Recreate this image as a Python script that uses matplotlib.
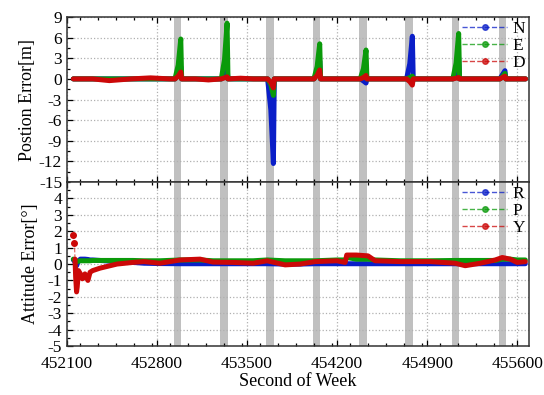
import numpy as np
import matplotlib
matplotlib.use("Agg")
import matplotlib.pyplot as plt
from matplotlib.lines import Line2D
from matplotlib.ticker import MultipleLocator

plt.rcParams['font.family'] = ['Liberation Serif', 'DejaVu Serif']
plt.rcParams['axes.unicode_minus'] = False

c_blue = '#0a1ec8'
c_green = '#0a9a0a'
c_red = '#cc0808'

# GNSS outage windows (start, end), seconds of week
outage_start = [452930, 453290, 453650, 454010, 454370, 454730, 455090, 455455]
outage_len = 60

# position error time grid and series
pos_t = [452150, 452300, 452430, 452600, 452750, 452900,
         452940, 452965, 452985, 452992,
         453100, 453200,
         453300, 453325, 453345, 453352,
         453450, 453550,
         453660, 453685, 453705, 453712,
         453800, 453900,
         454020, 454045, 454065, 454072,
         454150, 454250,
         454380, 454405, 454425, 454432,
         454500, 454600,
         454740, 454765, 454785, 454792,
         454900, 455000,
         455100, 455125, 455145, 455152,
         455250, 455350,
         455465, 455485, 455505, 455512,
         455600, 455665]
pos_N = [0.0, 0.0, 0.0, 0.0, 0.0, 0.0,
         0.0, 0.6, 1.8, 0.0,
         0.0, 0.0,
         0.0, 0.5, 1.5, 0.0,
         0.0, 0.0,
         0.0, -4.5, -12.3, 0.0,
         0.0, 0.0,
         0.0, 0.9, 2.6, 0.0,
         0.0, 0.0,
         0.0, -0.3, -0.6, 0.0,
         0.0, 0.0,
         0.0, 2.2, 6.2, 0.0,
         0.0, 0.0,
         0.0, 1.1, 3.1, 0.0,
         0.0, 0.0,
         0.0, 0.6, 1.2, 0.0,
         0.0, 0.0]
pos_E = [0.0, 0.0, 0.0, 0.0, 0.0, 0.0,
         0.0, 2.0, 5.8, 0.0,
         0.0, 0.0,
         0.0, 2.8, 8.1, 0.0,
         0.0, 0.0,
         0.0, -0.8, -2.4, 0.0,
         0.0, 0.0,
         0.0, 1.8, 5.1, 0.0,
         0.0, 0.0,
         0.0, 1.5, 4.2, 0.0,
         0.0, 0.0,
         0.0, 0.2, 0.4, 0.0,
         0.0, 0.0,
         0.0, 2.3, 6.6, 0.0,
         0.0, 0.0,
         0.0, 0.3, 0.8, 0.0,
         0.0, 0.0]
pos_D = [0.0, 0.0, -0.25, 0.0, 0.15, 0.0,
         0.0, 0.4, 1.0, 0.0,
         0.0, -0.15,
         0.0, 0.15, 0.3, 0.0,
         0.1, 0.0,
         0.0, -0.5, -1.3, 0.0,
         0.0, 0.0,
         0.0, 0.5, 1.3, 0.0,
         0.0, 0.0,
         0.0, 0.2, 0.5, 0.0,
         0.0, 0.0,
         0.0, -0.4, -0.9, 0.0,
         0.0, 0.0,
         0.0, 0.1, 0.2, 0.0,
         0.0, 0.0,
         0.0, 0.2, 0.4, 0.0,
         0.0, 0.0]

# attitude error (deg)
att_t = [452150, 452158, 452163, 452168, 452175, 452180, 452190, 452205, 452220,
         452240, 452263, 452280, 452300, 452357, 452489, 452613, 452700, 452823,
         452979, 453135, 453236, 453391, 453547, 453656, 453796, 453913, 454029,
         454200, 454263, 454275, 454350, 454440, 454496, 454690, 454925, 455118,
         455196, 455313, 455430, 455484, 455546, 455600, 455663]
att_R = [0.25, 0.2, 0.1, -0.05, -0.1, 0.0, 0.2, 0.3, 0.3,
         0.3, 0.28, 0.25, 0.25, 0.22, 0.15, 0.1, 0.05, 0.03,
         0.02, 0.02, 0.02, 0.02, 0.02, 0.02, 0.0, 0.0, 0.02,
         0.02, 0.02, 0.02, 0.02, 0.02, 0.02, 0.02, 0.02, 0.02,
         0.02, 0.02, 0.02, 0.02, 0.02, 0.02, 0.02]
att_P = [0.3, 0.25, 0.2, 0.15, 0.12, 0.15, 0.18, 0.2, 0.2,
         0.2, 0.2, 0.2, 0.22, 0.22, 0.22, 0.22, 0.2, 0.2,
         0.25, 0.25, 0.2, 0.2, 0.2, 0.25, 0.2, 0.2, 0.2,
         0.25, 0.25, 0.4, 0.3, 0.3, 0.25, 0.2, 0.2, 0.22,
         0.22, 0.22, 0.22, 0.3, 0.3, 0.25, 0.25]
att_Y = [1.8, 1.3, 0.3, -0.8, -1.7, -1.4, -0.4, -0.6, -0.9,
         -0.6, -1.0, -0.5, -0.4, -0.25, 0.0, 0.1, 0.15, 0.05,
         0.25, 0.3, 0.12, 0.1, 0.05, 0.2, -0.05, 0.0, 0.15,
         0.2, 0.1, 0.55, 0.55, 0.5, 0.2, 0.15, 0.15, 0.05,
         -0.1, 0.05, 0.25, 0.4, 0.3, 0.1, 0.15]

x_ticks = [452100, 452800, 453500, 454200, 454900, 455600]

fig = plt.figure(figsize=(5.44, 3.95), dpi=100)
ax1 = fig.add_axes([0.123, 0.539, 0.849, 0.418])
ax2 = fig.add_axes([0.123, 0.124, 0.849, 0.415], sharex=ax1)

for ax in (ax1, ax2):
    for s in outage_start:
        ax.axvspan(s, s + outage_len, color='#c0c0c0', lw=0, zorder=0)
    ax.grid(True, which='major', linestyle=':', color='#b0b0b0', lw=0.9)
    ax.set_axisbelow(True)
    ax.tick_params(direction='in', which='both', top=True, right=False,
                   labelsize=12.5, length=4, width=0.9)
    ax.tick_params(which='minor', length=2)
    for sp in ax.spines.values():
        sp.set_color('#333333')
        sp.set_linewidth(1.1)

lw = 3.6
ax1.plot(pos_t, pos_N, '-', color=c_blue, lw=lw, solid_capstyle='round', zorder=2)
ax1.plot(pos_t, pos_E, '-', color=c_green, lw=lw, solid_capstyle='round', zorder=3)
ax1.plot(pos_t, pos_D, '-', color=c_red, lw=lw, solid_capstyle='round', zorder=4)

ax2.plot(att_t, att_R, '-', color=c_blue, lw=lw, solid_capstyle='round', zorder=2)
ax2.plot(att_t, att_P, '-', color=c_green, lw=lw, solid_capstyle='round', zorder=3)
ax2.plot(att_t[2:], att_Y[2:], '-', color=c_red, lw=lw, solid_capstyle='round', zorder=4)
ax2.plot(att_t[:3], att_Y[:3], '--', color=c_red, lw=0.9, alpha=0.6, zorder=4)
ax2.plot(att_t[:2], att_Y[:2], 'o', color=c_red, ms=4, zorder=5)

ax1.set_xlim(452100, 455690)
ax1.set_xticks(x_ticks)
ax1.xaxis.set_minor_locator(MultipleLocator(140))
ax1.tick_params(labelbottom=False)
ax1.set_ylim(-15, 9)
ax1.set_yticks(np.arange(-15, 10, 3))
ax1.yaxis.set_minor_locator(MultipleLocator(1.5))
ax1.set_ylabel('Postion Error[m]', fontsize=13, labelpad=2)

ax2.set_ylim(-5, 5)
ax2.set_yticks(np.arange(-5, 5, 1))
ax2.yaxis.set_minor_locator(MultipleLocator(0.5))
ax2.tick_params(axis='x', pad=7)
ax2.set_ylabel('Attitude Error[°]', fontsize=13, labelpad=6)
ax2.set_xlabel('Second of Week', fontsize=13, labelpad=1)


def handles(cols):
    return [Line2D([], [], color=c, ls='--', lw=1.0, marker='o', ms=4,
                   markerfacecolor=c, markeredgecolor=c, alpha=0.75) for c in cols]


leg_kw = dict(loc='upper right', frameon=False, fontsize=12.5, handlelength=2.6,
              handletextpad=0.3, labelspacing=0.05, borderaxespad=0.0,
              borderpad=0.2)
ax1.legend(handles([c_blue, c_green, c_red]), ['N', 'E', 'D'], **leg_kw)
ax2.legend(handles([c_blue, c_green, c_red]), ['R', 'P', 'Y'], **leg_kw)

fig.savefig('out.png', dpi=100)
